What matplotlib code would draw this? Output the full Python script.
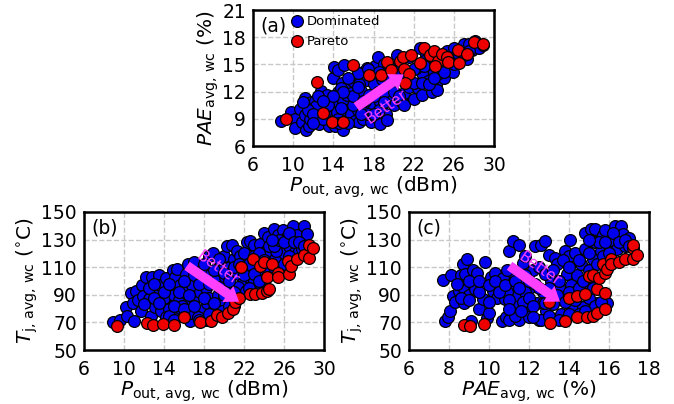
import matplotlib
matplotlib.use("Agg")
import matplotlib.pyplot as plt

plt.rcParams['font.family'] = 'DejaVu Sans'
plt.rcParams['mathtext.fontset'] = 'dejavusans'

a_dom_pout = [8.8,9.8,10.2,10.2,10.7,10.9,11.2,11.2,11.3,11.6,11.7,11.8,12.2,12.5,12.6,12.8,13,13.3,13.4,13.6,13.8,14,14,14.1,14.2,14.4,14.5,14.5,14.9,15,15,15.1,15.3,15.3,15.4,15.5,15.8,16,16.2,16.4,16.5,16.6,16.8,17,17,17.2,17.4,17.6,17.8,18,18,18.1,18.2,18.4,18.6,18.8,18.8,19,19.2,19.3,19.6,19.8,20,20,20.3,20.5,20.8,21,21,21.5,21.5,22,22.4,22.6,22.8,22.8,23.2,23.4,23.6,23.8,24,24.2,24.3,24.8,25,25.3,25.5,25.9,26,26.5,26.8,27,27.3,27.5,27.8,28.1,28.5,28.9,12.3,13.2,14.8,15.8,16.6,17.4,18.4,19.4,20.4,21.4,22.2,23,23.8,24.6,25.4,26.2,17.2,18.6,19.6,20.6,
              11.5,12,12.5,13,13.5,14.5,14.8,15.5,16,16,16.5,17,17.5,18,18.5,19,19,19.5,20,20.5,20.5,21,22,22,22.8,23,23.5,24.5,25,25.5,26,26.5,27,27.5,24,25,16.5,15.5,15,14,17.5,18.5,19.5,20.5,12,13,11,14.6,16.8,18]
a_dom_pae = [8.8,9.8,9.0,8.0,10.1,8.6,11.3,9.4,7.8,8.2,9.0,10.8,11.0,10.0,8.4,12.1,10.3,8.9,11.6,8.2,9.8,10.9,13.5,14.7,8.2,9.7,12,14.4,13,7.8,11,14.9,9.2,10,11.6,12.6,9.5,13.2,8.8,11,10,8.7,12.1,14.2,9,10.1,13.3,11.6,8.7,10.4,12.8,14.8,9.2,15.8,8.4,11,13.4,15,9.5,8.9,11.4,12.2,13.2,10.5,16,15,10.8,11.8,13.4,15.8,12.5,11.2,12.4,16.8,14,11.6,16,13.2,15,12,14.2,12.7,12.2,15.3,13.5,16.5,14.8,14.2,16.8,15.5,16.5,17.2,15.6,17.3,16.6,17.6,16.8,17.1,10.4,9.6,12.4,11.8,12.8,14.6,12,14,14.8,14.2,14.6,15.4,15.9,15.6,15.8,15.9,11,10.8,13,13.8,
             10,9.5,11.5,9,10.5,9,10.2,8.5,10.5,11.5,12.5,11,9.5,11.5,10,12,10.8,13.5,12,13.8,11.5,10.5,13,14.5,13,14.8,12.8,14,15,15.5,15,16,16,16.5,13.5,14.2,14,13.5,12,11.5,14.5,14.2,14.8,14.5,8.5,11,10.8,8.5,9.5,9.5]
a_par_pout = [9.3,12.4,13.0,13.9,15,16,17.6,18.7,19.3,19.7,20.6,20.9,21,21.5,21.1,21.7,22.6,23,23.6,24,24.4,24.1,24.8,25.3,25.4,26.4,26.5,27.3,28,28.9]
a_par_pae = [8.94,13.06,9.64,8.7,8.65,14.9,13.8,13.8,15.3,14.4,15.4,15.8,14.5,13.9,12.9,16,15.1,16.8,16,16.5,15.4,14.8,16.1,15.8,15.3,16.6,15.2,16.1,17.5,17.2]

b_dom_pout = [8.9,9.6,10.2,10.3,10.7,10.9,11,11.2,11.4,11.7,11.8,11.9,12.2,12.5,12.7,12.8,13.1,13.2,13.5,13.6,13.7,14,14,14.2,14.5,14.7,14.9,15,15.1,15.3,15.5,15.6,15.8,16,16.2,16.4,16.4,16.6,16.8,17,17,17.2,17.5,17.6,17.8,18,18.2,18.3,18.5,18.5,18.7,18.9,19,19.2,19.4,19.6,19.8,20,20.1,20.3,20.5,20.6,20.8,21,21,21.3,21.4,21.6,21.8,22,22.3,22.5,22.6,22.8,23,23.2,23.4,23.6,24,24,24.2,24.4,24.6,25,25.1,25.4,25.5,25.7,25.9,26,26.3,26.5,26.9,27,27.3,27.5,27.8,28,28.3,14.2,15,15.8,16.6,17.4,18.2,19,19.8,20.6,21.4,22.2,23,23.8,24.4,22.6,25.2,
              12,12.5,13,13,13.5,14,14.5,14.5,15,15,15.5,16,16,16.5,17,17,17.5,17.5,18,18,18.5,18.5,19,19,19.5,19.5,20,20,20.5,20.5,21,21,21.5,22,22,22.5,22.5,23,23,23.5,23.5,24,24.5,24.5,25,25,25.5,26,26,26.5,26.5,27,27.5,28,24.8]
b_dom_tj = [70,72,81,75,91,84,71,93,86,78,97,89,103,87,75,103,81,92,104,97,78,85,88,102,80,95,108,90,103,109,86,97,78,92,105,84,112,71,97,114,88,76,102,92,108,80,95,84,88,118,105,120,76,100,90,112,85,118,103,125,95,110,126,116,82,122,105,118,98,112,128,103,129,120,126,112,97,127,108,135,122,132,120,138,116,133,125,108,137,120,132,125,140,120,133,122,123,140,134,74,73,82,77,74,72,80,78,88,96,93,100,101,105,118,122,
            83,95,88,98,84,92,98,75,72,82,92,100,80,90,82,104,72,98,88,112,76,98,84,108,96,116,90,106,82,100,110,92,112,104,120,95,112,105,118,100,120,115,125,108,125,110,130,112,128,118,135,128,128,125,130]
b_par_pout = [9.3,12.3,12.9,13.9,15,16,17.6,18.7,19.3,19.8,20.4,20.9,21.1,21.5,21.7,22.6,22.9,23.1,23.6,23.8,24,24.3,24.3,24.5,24.8,25.4,25.4,26.4,26.5,26.7,27.3,28,28.5,28.5,28.9]
b_par_tj = [67.7,69.6,68.4,69.1,68.2,74.2,70.6,71,75.4,73.7,77,79.5,85,88,110,90.7,116,90.5,111,91,113.7,92.4,103,94,112,106,103,114.7,105,111,116,119,116.6,126,124]

c_dom_pae = [7.7,7.8,7.95,8.05,8.1,8.2,8.3,8.5,8.6,8.7,8.7,8.75,8.8,8.9,9,9.1,9.2,9.2,9.3,9.4,9.5,9.7,9.8,9.9,10,10.1,10.2,10.3,10.4,10.6,10.65,10.7,10.8,10.85,11,11,11.05,11.1,11.2,11.3,11.4,11.5,11.5,11.6,11.7,11.8,11.9,12,12,12.1,12.2,12.3,12.4,12.5,12.6,12.7,12.8,12.85,13,13.1,13.2,13.3,13.4,13.6,13.8,13.9,14,14.05,14.1,14.2,14.3,14.4,14.6,14.7,14.8,14.8,15,15.1,15.2,15.3,15.3,15.4,15.6,15.7,15.8,15.9,16,16.1,16.3,16.4,16.6,16.7,16.8,17,10.9,11.3,11.8,12.3,12.7,13.3,13.8,14.3,14.9,15.4,11.7,12.6,13.5,14.5,
             8.4,8.6,9,9,9.5,9.5,10,10,10.3,10.5,10.8,10.9,11,11,11.3,11.5,11.6,11.8,12,12,12.2,12.2,12.5,12.5,12.8,12.8,13,13,13.2,13.4,13.5,13.7,13.8,14,14,14.3,14.5,14.5,14.7,15,15,15,15.2,15.4,15.5,15.7,16,16.2,16.5,16.8,17,15,15.8,15.3,15.6,14,14.8,13.5]
c_dom_tj = [101,71,74,78,104,89,85,93,104,112,96,84,105,116,90,71,98,108,94,106,80,87,114,73,77,103,93,106,88,96,71,102,87,74,122,72,97,107,129,82,90,72,126,100,113,118,87,78,74,96,108,125,84,72,126,92,129,78,119,100,83,117,112,76,122,105,118,130,97,80,120,104,112,81,135,123,100,138,116,128,138,84,122,133,137,84,125,130,140,123,140,134,125,131,92,75,92,98,84,95,88,92,95,80,85,72,96,76,
            98,88,100,86,92,100,85,97,100,92,97,108,86,80,100,95,78,104,88,100,82,74,95,110,84,105,75,95,108,90,100,115,85,92,110,86,95,115,100,108,88,120,95,112,128,118,120,135,128,130,125,130,128,82,85,76,78,72]
c_par_pae = [8.75,9.03,9.75,13,13.03,13.8,14,14.4,14.4,14.8,14.9,15,15.2,15.2,15.4,15.4,15.5,15.8,15.8,15.8,15.7,15.9,16.1,16.1,16.5,16.8,17.2,17.2,17.2,17.4]
c_par_tj = [68.4,67.7,68.6,85,69.8,71,88,74.2,89,90.4,74,103.7,104.7,74.7,94,77,102,91,79.7,106,112,109,116,112,114,116,116,124,126,119]

x_pout_ticks = [6,10,14,18,22,26,30]
x_pae_ticks = [6,8,10,12,14,16,18]
y_pae_ticks = [6,9,12,15,18,21]
y_tj_ticks = [50,70,90,110,130,150]
xl_pout = r'$P_{\mathrm{out,\,avg,\,wc}}$ (dBm)'
xl_pae = r'$PAE_{\mathrm{avg,\,wc}}$ (%)'
yl_tj = r'$T_{\mathrm{j,\,avg,\,wc}}$ ($^{\circ}$C)'

W, H = 674, 404
fig = plt.figure(figsize=(W/100, H/100), dpi=100)

def mk(l, t, r, b):
    return fig.add_axes([l/W, 1-b/H, (r-l)/W, (b-t)/H])

def panel(ax, dx, dy, px, py, xt, yt, xl, yl, tag, arrow, better, rot):
    ax.scatter(dx, dy, s=72, c='#0000ee', edgecolors='black', linewidths=0.9, zorder=3, label='Dominated')
    ax.scatter(px, py, s=72, c='#ee0000', edgecolors='black', linewidths=0.9, zorder=4, label='Pareto')
    ax.set_xlim(xt[0], xt[-1]); ax.set_ylim(yt[0], yt[-1])
    ax.set_xticks(xt); ax.set_yticks(yt)
    ax.grid(True, ls='--', color='#c8c8c8', lw=1.0, zorder=0)
    ax.set_axisbelow(True)
    ax.tick_params(axis='x', labelsize=13.5, length=0, pad=7)
    ax.tick_params(axis='y', labelsize=13.5, length=0, pad=5)
    for s in ax.spines.values():
        s.set_linewidth(1.8)
    ax.set_xlabel(xl, fontsize=14.5, labelpad=0)
    ax.set_ylabel(yl, fontsize=14.5, labelpad=1)
    ax.text(0.03, 0.95, tag, transform=ax.transAxes, fontsize=13.5, va='top', ha='left', zorder=6)
    ax.annotate('', xy=arrow[1], xytext=arrow[0], zorder=5,
                arrowprops=dict(arrowstyle='simple,head_width=1.0,head_length=0.7,tail_width=0.5',
                                mutation_scale=14, fc='#ff40ff', ec='none', shrinkA=0, shrinkB=0))
    ax.text(better[0], better[1], 'Better', color='#ff40ff', fontsize=11, rotation=rot,
            ha='center', va='center', rotation_mode='anchor', zorder=6)

axa = mk(253, 10, 494, 146)
panel(axa, a_dom_pout, a_dom_pae, a_par_pout, a_par_pae, x_pout_ticks, y_pae_ticks,
      xl_pout, xl_pae, '(a)', ((16.3, 10.3), (21, 13.9)), (19.3, 10.3), 35)
axa.legend(loc='upper left', bbox_to_anchor=(0.107, 1.0), frameon=False, fontsize=9.5,
           handletextpad=-0.2, labelspacing=0.55, borderpad=0.35, borderaxespad=0).set_zorder(7)

axb = mk(84, 212, 324, 350)
panel(axb, b_dom_pout, b_dom_tj, b_par_pout, b_par_tj, x_pout_ticks, y_tj_ticks,
      xl_pout, yl_tj, '(b)', ((16.3, 111), (21.5, 85)), (19.4, 109.5), -35)

axc = mk(409, 212, 649, 350)
panel(axc, c_dom_pae, c_dom_tj, c_par_pae, c_par_tj, x_pae_ticks, y_tj_ticks,
      xl_pae, yl_tj, '(c)', ((11.03, 111), (13.55, 85)), (12.55, 109), -35)

fig.savefig('out.png', dpi=100)
